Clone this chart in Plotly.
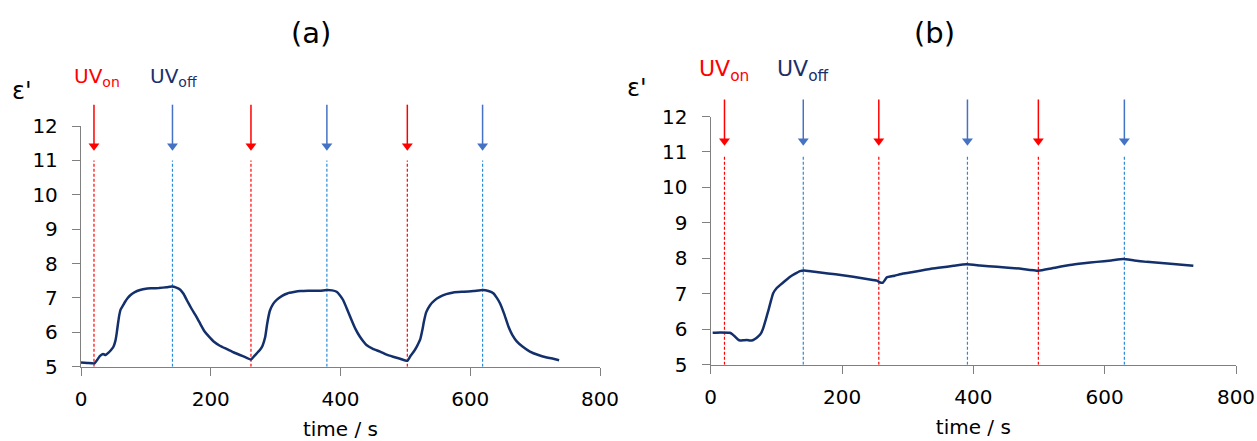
import plotly.graph_objects as go

# ---- panel (a): permittivity vs time, three UV on/off cycles ----
time_a = [0, 10, 21, 25, 29, 34, 38, 42, 46, 50, 53, 55, 57, 59, 61, 65, 68, 72, 76, 83,
          91, 100, 110, 120, 132, 140, 147, 153, 158, 163, 170, 178, 184, 190, 197, 204,
          214, 225, 235, 245, 254, 262, 268, 276, 280, 284, 287, 291, 296, 302, 310, 318,
          328, 338, 350, 368, 379, 387, 394, 399, 404, 410, 417, 423, 430, 435, 440, 450,
          461, 471, 481, 492, 503, 508, 513, 518, 523, 526, 529, 532, 538, 545, 553, 563,
          574, 590, 605, 619, 628, 636, 641, 646, 652, 659, 665, 672, 681, 692, 705, 718,
          728, 737]
eps_a = [5.12, 5.11, 5.10, 5.20, 5.31, 5.37, 5.34, 5.40, 5.48, 5.58, 5.75, 5.97, 6.25, 6.50,
         6.66, 6.79, 6.89, 7.00, 7.08, 7.17, 7.23, 7.27, 7.28, 7.29, 7.31, 7.33, 7.30, 7.24,
         7.12, 6.94, 6.70, 6.45, 6.24, 6.04, 5.88, 5.74, 5.61, 5.51, 5.42, 5.34, 5.27, 5.21,
         5.33, 5.49, 5.62, 5.87, 6.25, 6.62, 6.82, 6.95, 7.06, 7.13, 7.17, 7.20, 7.21, 7.21,
         7.23, 7.22, 7.18, 7.08, 6.94, 6.68, 6.36, 6.10, 5.87, 5.74, 5.63, 5.52, 5.44, 5.35,
         5.29, 5.23, 5.17, 5.32, 5.44, 5.60, 5.80, 6.05, 6.35, 6.58, 6.79, 6.93, 7.03, 7.11,
         7.16, 7.18, 7.20, 7.23, 7.20, 7.13, 7.00, 6.84, 6.55, 6.16, 5.92, 5.73, 5.58, 5.44,
         5.34, 5.27, 5.23, 5.19]
uv_on_a = [20, 262, 503]
uv_off_a = [141, 379, 619]

# ---- panel (b) ----
time_b = [3, 15, 29, 33, 37, 41, 45, 50, 55, 60, 64, 68, 72, 77, 80, 84, 88, 92, 95, 100,
          106, 113, 121, 128, 136, 142, 155, 167, 190, 217, 240, 253, 258, 262, 265, 268,
          280, 293, 306, 319, 334, 350, 370, 390, 410, 436, 470, 499, 520, 547, 568, 588,
          610, 628, 645, 664, 700, 735]
eps_b = [5.90, 5.91, 5.90, 5.86, 5.79, 5.72, 5.68, 5.69, 5.70, 5.68, 5.69, 5.73, 5.79, 5.90,
         6.03, 6.28, 6.54, 6.82, 7.01, 7.15, 7.25, 7.36, 7.48, 7.56, 7.64, 7.66, 7.63, 7.60,
         7.55, 7.48, 7.41, 7.37, 7.32, 7.31, 7.38, 7.46, 7.51, 7.57, 7.61, 7.65, 7.70, 7.74,
         7.79, 7.83, 7.80, 7.76, 7.71, 7.65, 7.72, 7.81, 7.86, 7.90, 7.94, 7.98, 7.94, 7.90,
         7.85, 7.79]
uv_on_b = [21, 256, 499]
uv_off_b = [141, 391, 630]

x_ticks = [0, 200, 400, 600, 800]
y_ticks = [5, 6, 7, 8, 9, 10, 11, 12]
Y_MIN, Y_MAX = 5, 12

W, H = 1257, 441
FONT = "DejaVu Sans"
CURVE = "#13306c"
NAVY = "#1b2f6b"
RED = "#ff0000"
ARROW_BLUE = "#4472c4"
DASH_BLUE = "#2a8ad6"
AXIS = "#808080"


def px_x(p):
    return p / W


def px_y(p):
    return 1 - p / H


panels = [
    dict(xa="x", ya="y", xd=[81, 600], yd=[366.7, 126], on=uv_on_a, off=uv_off_a,
         t=time_a, e=eps_a, head=11.42, shaft_top=12.62, dash_top=11.0,
         title="(a)", tx=311, eps=(21.5, 91), uvon=72, uvoff=148, uvy=92, uvsize=20),
    dict(xa="x2", ya="y2", xd=[710.7, 1236], yd=[364.7, 116.5], on=uv_on_b, off=uv_off_b,
         t=time_b, e=eps_b, head=11.31, shaft_top=12.48, dash_top=10.9,
         title="(b)", tx=934, eps=(636.5, 88), uvon=697, uvoff=775, uvy=87, uvsize=22),
]

axis_style = dict(showline=True, linecolor=AXIS, linewidth=1.3, ticks="outside",
                  ticklen=8, tickcolor=AXIS, tickwidth=1.3, showgrid=False,
                  zeroline=False, automargin=False,
                  tickfont=dict(family=FONT, size=20, color="#000"))

fig = go.Figure()
layout = dict(width=W, height=H, margin=dict(l=0, r=0, t=0, b=0, autoexpand=False),
              paper_bgcolor="white", plot_bgcolor="white", showlegend=False)
shapes, annotations = [], []


def to_domain(v):
    return (v - Y_MIN) / (Y_MAX - Y_MIN)


for i, p in enumerate(panels):
    sfx = "" if i == 0 else "2"
    # measured curve
    fig.add_trace(go.Scatter(x=p["t"], y=p["e"], mode="lines", xaxis=p["xa"], yaxis=p["ya"],
                             line=dict(color=CURVE, width=2.5, shape="spline", smoothing=0.4),
                             hoverinfo="x+y"))
    layout["xaxis" + sfx] = dict(axis_style, domain=[px_x(p["xd"][0]), px_x(p["xd"][1])],
                                 range=[0, 800], tickvals=x_ticks, anchor=p["ya"],
                                 ticklabelstandoff=6,
                                 title=dict(text="time / s", standoff=12,
                                            font=dict(family=FONT, size=20, color="#000")))
    layout["yaxis" + sfx] = dict(axis_style, domain=[px_y(p["yd"][0]), px_y(p["yd"][1])],
                                 range=[Y_MIN, Y_MAX], tickvals=y_ticks, anchor=p["xa"],
                                 ticklabelstandoff=10)
    for times, dash_col, arrow_col in ((p["on"], RED, RED), (p["off"], DASH_BLUE, ARROW_BLUE)):
        for t in times:
            # dashed marker line from the axis up to the arrow
            shapes.append(dict(type="line", xref=p["xa"], yref=p["ya"], x0=t, x1=t,
                               y0=Y_MIN, y1=p["dash_top"], layer="below",
                               line=dict(color=dash_col, width=1.2, dash="3px,2px")))
            # arrow shaft (reaches above the axis top)
            shapes.append(dict(type="line", xref=p["xa"], yref=p["ya"] + " domain",
                               x0=t, x1=t, y0=to_domain(p["head"]),
                               y1=to_domain(p["shaft_top"]),
                               line=dict(color=arrow_col, width=1.5)))
        # arrow heads
        fig.add_trace(go.Scatter(x=times, y=[p["head"]] * len(times), mode="markers",
                                 xaxis=p["xa"], yaxis=p["ya"], cliponaxis=False,
                                 marker=dict(symbol="triangle-down", size=9.5,
                                             color=arrow_col, line=dict(width=0)),
                                 hoverinfo="x"))
    annotations.append(dict(xref="paper", yref="paper", x=px_x(p["tx"]), y=px_y(33),
                            text=p["title"], showarrow=False, xanchor="center",
                            yanchor="middle", font=dict(family=FONT, size=29, color="#000")))
    annotations.append(dict(xref="paper", yref="paper", x=px_x(p["eps"][0]),
                            y=px_y(p["eps"][1]), text="ε'", showarrow=False,
                            xanchor="center", yanchor="middle",
                            font=dict(family=FONT, size=24, color="#000")))
    annotations.append(dict(xref="paper", yref="paper", x=px_x(p["uvon"]), y=px_y(p["uvy"]),
                            text="UV<sub>on</sub>", showarrow=False, xanchor="left",
                            yanchor="bottom",
                            font=dict(family=FONT, size=p["uvsize"], color=RED)))
    annotations.append(dict(xref="paper", yref="paper", x=px_x(p["uvoff"]), y=px_y(p["uvy"]),
                            text="UV<sub>off</sub>", showarrow=False, xanchor="left",
                            yanchor="bottom",
                            font=dict(family=FONT, size=p["uvsize"], color=NAVY)))

layout["shapes"] = shapes
layout["annotations"] = annotations
fig.update_layout(**layout)
fig.write_html("out.html")
